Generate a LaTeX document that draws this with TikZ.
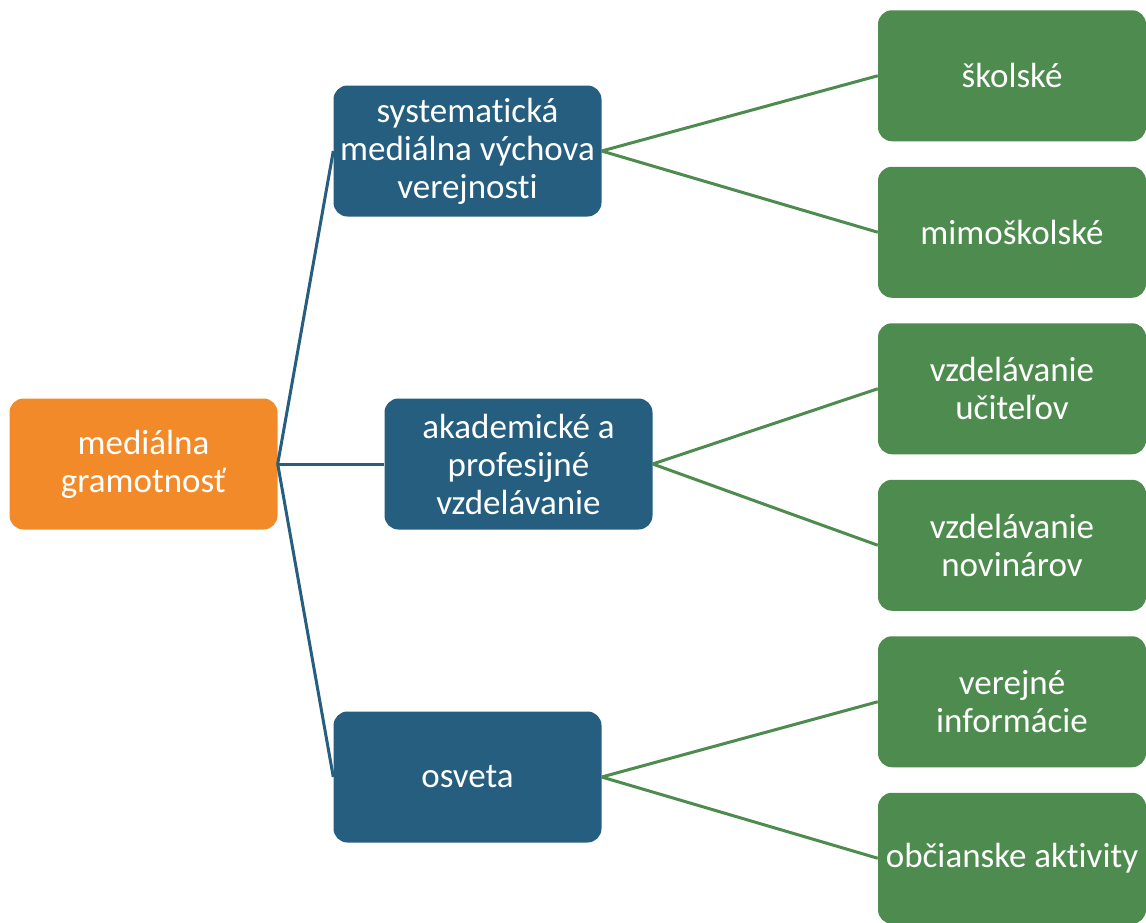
\documentclass[tikz,border=0pt]{standalone}
\usepackage{fontspec}
\setmainfont{Carlito}[Ligatures={NoCommon}]
\definecolor{rootorange}{HTML}{F38A2A}
\definecolor{midblue}{HTML}{255E7F}
\definecolor{leafgreen}{HTML}{4E8B4E}

\begin{document}
\begin{tikzpicture}[x=1pt,y=1pt,
  box/.style={rectangle,rounded corners=14pt,minimum width=268pt,minimum height=131pt,
    text=white,align=center,font=\fontsize{35}{38}\selectfont},
  root/.style={box,fill=rootorange},
  mid/.style={box,fill=midblue},
  leaf/.style={box,fill=leafgreen,yshift=-3pt},
  grow'=right,
  edge from parent path={(\tikzparentnode.east) -- (\tikzchildnode.west)},
  level 1/.style={level distance=324pt,sibling distance=313pt,
    edge from parent/.style={draw=midblue,line width=3pt}},
  level 2/.style={level distance=544.5pt,sibling distance=156.5pt,
    edge from parent/.style={draw=leafgreen,line width=3pt}}]
\useasboundingbox (0,0) rectangle (1146,-922);
\node [root] (media) at (143.5,-464) {mediálna\\gramotnosť}
  child {
    node [mid] (system) {systematická\\mediálna výchova\\verejnosti}
    child {node [leaf] (school) {školské}}
    child {node [leaf] (outschool) {mimoškolské}}
  }
  child {
    node [mid,xshift=51pt] (academic) {akademické a\\profesijné\\vzdelávanie}
    child {node [leaf,xshift=-51pt] (teachers) {vzdelávanie\\učiteľov}}
    child {node [leaf,xshift=-51pt] (journalists) {vzdelávanie\\novinárov}}
  }
  child {
    node [mid] (osveta) {osveta}
    child {node [leaf] (publicinfo) {verejné\\informácie}}
    child {node [leaf] (civic) {občianske aktivity}}
  };
\end{tikzpicture}
\end{document}
